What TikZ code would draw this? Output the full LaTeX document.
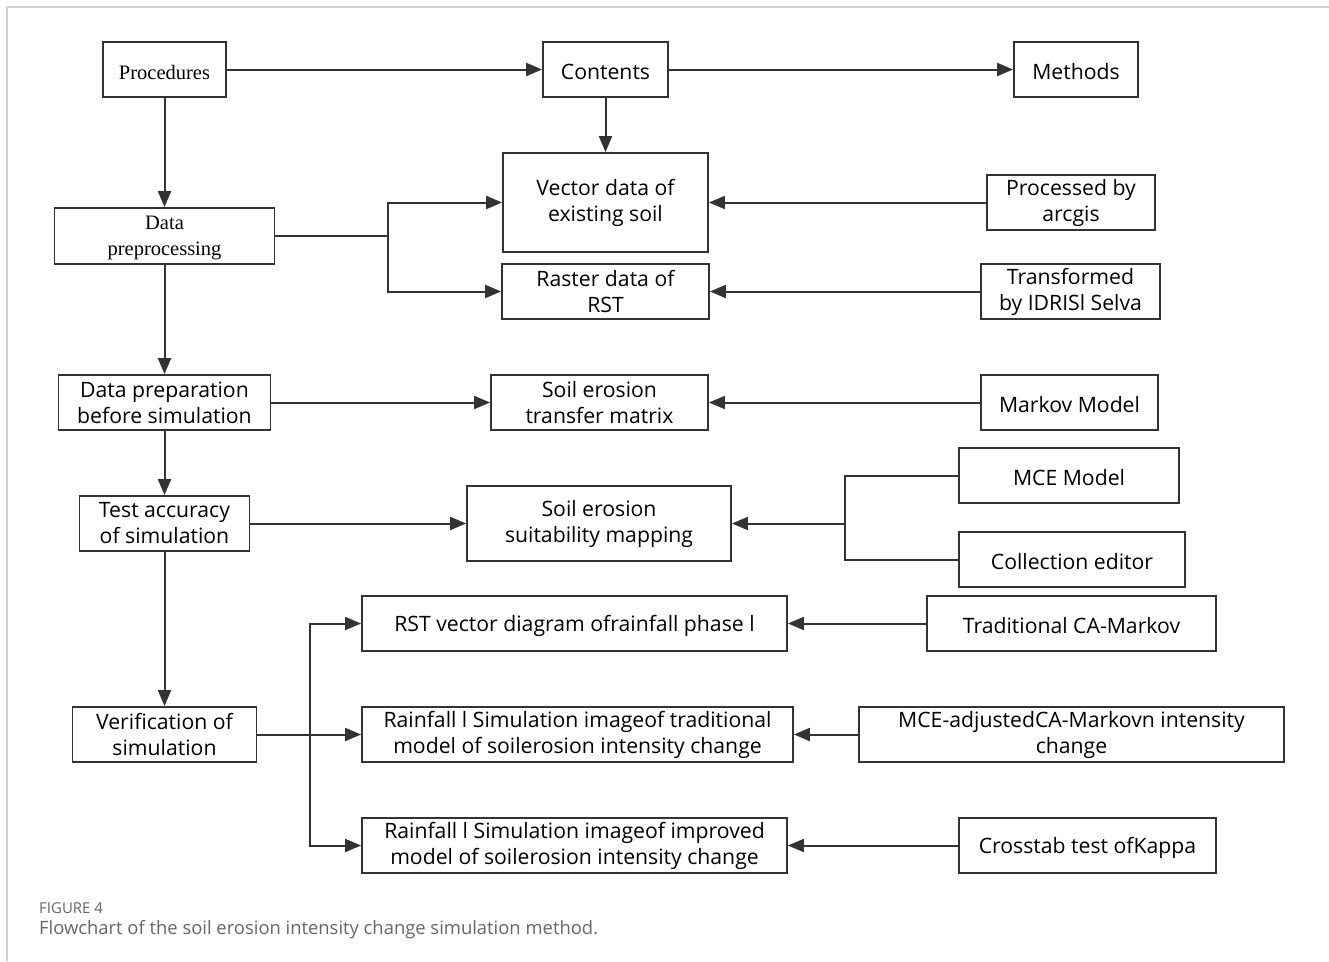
\documentclass[tikz,border=0pt]{standalone}
\usepackage{fontspec}
\setmainfont{Open Sans}
\newfontfamily\timesf{Liberation Serif}
\usetikzlibrary{arrows.meta}
\definecolor{linec}{HTML}{333333}
\definecolor{framec}{HTML}{D0D0D0}
\definecolor{capc}{HTML}{666666}
\begin{document}
\begin{tikzpicture}[x=1pt,y=-1pt,
  box/.style={draw=linec, line width=1.8pt, fill=white, inner sep=0pt, align=center,
     font=\fontsize{21.2}{26}\selectfont, execute at begin node={\rule{0pt}{21pt}}},
  tbox/.style={box, font=\timesf\fontsize{20.5}{26}\selectfont},
  conn/.style={draw=linec, line width=2pt},
  arr/.style={conn, -{Triangle[length=16pt,width=13pt]}}]
\useasboundingbox (0,0) rectangle (1329,961);
\draw[framec, line width=1.2pt] (7,961) -- (7,7) -- (1329,7);
% top row
\node[tbox, minimum width=123, minimum height=55] (proc) at (164.5,69.5) {Procedures};
\node[box, minimum width=125, minimum height=55] (cont) at (605.5,69.5) {Contents};
\node[box, minimum width=124, minimum height=55] (meth) at (1076,69.5) {Methods};
% data preprocessing
\node[tbox, minimum width=220, minimum height=56, text depth=-7pt] (dpre) at (164.5,236) {Data\\preprocessing};
\node[box, minimum width=205, minimum height=99] (vec) at (605.5,202.5) {Vector data of\\existing soil};
\node[box, minimum width=168, minimum height=55] (arcg) at (1071,202.5) {Processed by\\arcgis};
\node[box, minimum width=207, minimum height=55] (ras) at (605.5,291.5) {Raster data of\\RST};
\node[box, minimum width=179, minimum height=55] (idr) at (1070.5,291.5) {Transformed\\by IDRISl Selva};
% data preparation
\node[box, minimum width=212, minimum height=55] (dprep) at (164.5,402.5) {Data preparation\\before simulation};
\node[box, minimum width=217, minimum height=55] (tmat) at (599.5,402.5) {Soil erosion\\transfer matrix};
\node[box, minimum width=177, minimum height=55] (mark) at (1069.5,402.5) {Markov Model};
% test accuracy
\node[box, minimum width=170, minimum height=55] (test) at (164.5,523.5) {Test accuracy\\of simulation};
\node[box, minimum width=264, minimum height=75] (suit) at (599,523.5) {Soil erosion\\suitability mapping};
\node[box, minimum width=220, minimum height=55] (mce) at (1069,475.5) {MCE Model};
\node[box, minimum width=226, minimum height=55] (coll) at (1072,559.5) {Collection editor};
% verification
\node[box, minimum width=184, minimum height=55] (veri) at (164.5,734.5) {Verification of\\simulation};
\node[box, minimum width=425, minimum height=55] (rstv) at (574.5,623.5) {RST vector diagram ofrainfall phase l};
\node[box, minimum width=289, minimum height=55] (trad) at (1071.5,623.5) {Traditional CA-Markov};
\node[box, minimum width=431, minimum height=55] (rtrad) at (577.5,734.5) {Rainfall l Simulation imageof traditional\\model of soilerosion intensity change};
\node[box, minimum width=425, minimum height=55] (madj) at (1071.5,734.5) {MCE-adjustedCA-Markovn intensity\\change};
\node[box, minimum width=425, minimum height=55] (rimp) at (574.5,845.5) {Rainfall l Simulation imageof improved\\model of soilerosion intensity change};
\node[box, minimum width=257, minimum height=55] (cros) at (1087.5,845.5) {Crosstab test ofKappa};
% junction coordinates
\coordinate (j1) at (388,236);
\coordinate (j2) at (845,523.5);
\coordinate (j3) at (310,734.5);
% connectors
\draw[arr] (proc) -- (cont);
\draw[arr] (cont) -- (meth);
\draw[arr] (proc) -- (dpre);
\draw[arr] (cont) -- (vec);
\draw[conn] (dpre.east) -- (j1);
\draw[arr] (j1) |- (vec.west);
\draw[arr] (j1) |- (ras.west);
\draw[arr] (arcg) -- (vec);
\draw[arr] (idr) -- (ras);
\draw[arr] (dpre) -- (dprep);
\draw[arr] (dprep) -- (tmat);
\draw[arr] (mark) -- (tmat);
\draw[arr] (dprep) -- (test);
\draw[arr] (test) -- (suit);
\draw[conn] (mce.west) -| (j2);
\draw[conn] (coll.west) -| (j2);
\draw[arr] (j2) -- (suit.east);
\draw[arr] (test) -- (veri);
\draw[conn] (veri.east) -- (j3);
\draw[arr] (j3) |- (rstv.west);
\draw[arr] (j3) -- (rtrad.west);
\draw[arr] (j3) |- (rimp.west);
\draw[arr] (trad) -- (rstv);
\draw[arr] (madj) -- (rtrad);
\draw[arr] (cros) -- (rimp);
% caption
\node[anchor=base west, inner sep=0pt, text=capc, font=\fontsize{15}{18}\selectfont] (fig) at (39,913) {FIGURE 4};
\node[anchor=base west, inner sep=0pt, text=capc, font=\fontsize{18.4}{22}\selectfont] (cap) at (39,934) {Flowchart of the soil erosion intensity change simulation method.};
\end{tikzpicture}
\end{document}
